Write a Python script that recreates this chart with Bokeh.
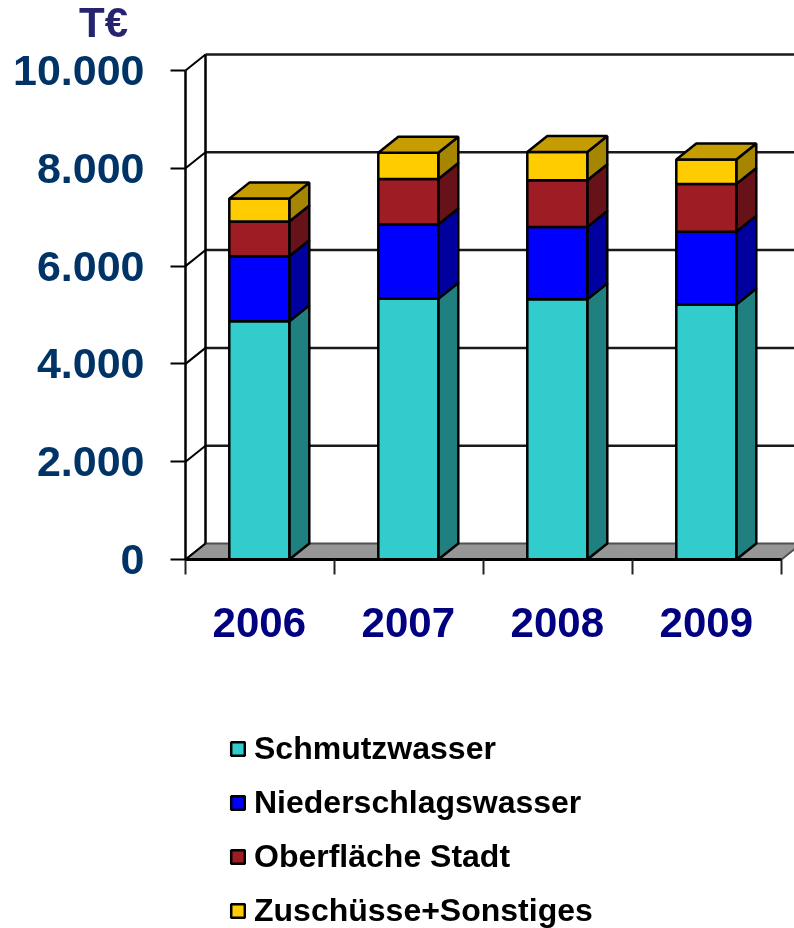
from bokeh.plotting import figure
from bokeh.embed import file_html
from bokeh.resources import INLINE
from bokeh.models import LinearAxis, FixedTicker, Label, Legend, LegendItem, Range1d
import numpy as np

# ---- data ----
years = ["2006", "2007", "2008", "2009"]
series_names = ["Schmutzwasser", "Niederschlagswasser", "Oberfläche Stadt", "Zuschüsse+Sonstiges"]
schmutz = [4870, 5330, 5320, 5215]
nieder = [1330, 1520, 1480, 1490]
oberflaeche = [710, 930, 955, 975]
zuschuesse = [470, 540, 580, 500]
y_ticks = [0, 2000, 4000, 6000, 8000, 10000]
y_labels = ["0", "2.000", "4.000", "6.000", "8.000", "10.000"]

front_colors = ["#33CCCC", "#0000FF", "#9E1C24", "#FFCC00"]
side_colors = ["#208080", "#00009F", "#661218", "#A68500"]
top_color = "#C59D00"

# ---- scale set-up ----
W, H = 794, 928
X0, Y0 = 185, 559          # pixel position of data origin
PX_X, PX_Y = 149.0, 0.0489 # px per category, px per value
DX = 20 / PX_X             # depth offset in data units
DY = 16 / PX_Y
BAR = 60 / PX_X
BAR_SHIFT = -0.7 / PX_X

p = figure(width=W, height=H, output_backend="svg", toolbar_location=None,
           x_axis_type=None, y_axis_type=None,
           x_range=Range1d(-X0 / PX_X, (W - X0) / PX_X),
           y_range=Range1d(-(H - Y0) / PX_Y, Y0 / PX_Y),
           min_border=0, min_border_left=0, min_border_right=0,
           min_border_top=0, min_border_bottom=0, outline_line_color=None,
           border_fill_color="white", background_fill_color="white")
p.styles = {"position": "fixed", "left": "0px", "top": "0px"}
p.grid.visible = False

n = len(years)
xmax = float(n)
LW = 2.5
BLACK = "#000000"

# floor
p.patch([0, DX, xmax + DX, xmax], [0, DY, DY, 0], fill_color="#969696",
        line_color="#505050", line_width=2)
# back wall gridlines
grid_vals = [v for v in y_ticks if v > 0]
p.segment(x0=[DX] * len(grid_vals), y0=[v + DY for v in grid_vals],
          x1=[xmax + DX] * len(grid_vals), y1=[v + DY for v in grid_vals],
          line_color="#1a1a1a", line_width=LW)
# side wall connecting lines
p.segment(x0=[0] * len(y_ticks), y0=y_ticks, x1=[DX] * len(y_ticks),
          y1=[v + DY for v in y_ticks], line_color=BLACK, line_width=2)
# back vertical
p.segment(x0=[DX], y0=[DY], x1=[DX], y1=[max(y_ticks) + DY], line_color=BLACK, line_width=LW)

# bars
stack = np.array([schmutz, nieder, oberflaeche, zuschuesse], dtype=float)
cum = np.vstack([np.zeros(n), np.cumsum(stack, axis=0)])
centers = np.arange(n) + 0.5 + BAR_SHIFT
left, right = centers - BAR / 2, centers + BAR / 2

legend_items = []
for s, name in enumerate(series_names):
    # side face
    xs = [[r, r + DX, r + DX, r] for r in right]
    ys = [[b, b + DY, t + DY, t] for b, t in zip(cum[s], cum[s + 1])]
    p.patches(xs, ys, fill_color=side_colors[s], line_color=BLACK, line_width=LW)
    # front face
    q = p.quad(left=left, right=right, bottom=cum[s], top=cum[s + 1],
               fill_color=front_colors[s], line_color=BLACK, line_width=LW)
    legend_items.append(LegendItem(label=name, renderers=[q]))
# top faces
p.patches([[l, l + DX, r + DX, r] for l, r in zip(left, right)],
          [[t, t + DY, t + DY, t] for t in cum[-1]],
          fill_color=top_color, line_color=BLACK, line_width=LW)

# y axis
yax = LinearAxis(fixed_location=0, ticker=FixedTicker(ticks=y_ticks),
                 major_label_overrides=dict(zip(y_ticks, y_labels)),
                 bounds=(0, max(y_ticks)),
                 major_tick_in=0, major_tick_out=15, minor_tick_line_color=None,
                 major_tick_line_color=BLACK, major_tick_line_width=2,
                 axis_line_color=BLACK, axis_line_width=LW,
                 major_label_standoff=26,
                 major_label_text_font="Liberation Sans",
                 major_label_text_font_style="bold",
                 major_label_text_font_size="43px",
                 major_label_text_color="#003366")
p.add_layout(yax, "left")

# x axis: tick marks
xax = LinearAxis(fixed_location=0, ticker=FixedTicker(ticks=list(range(n + 1))),
                 bounds=(0, xmax), major_tick_in=0, major_tick_out=15,
                 minor_tick_line_color=None, major_tick_line_color="#222222",
                 major_tick_line_width=2, axis_line_color=BLACK, axis_line_width=3,
                 major_label_text_font_size="0px", major_label_text_color=None)
p.add_layout(xax, "below")
# x axis: year labels between ticks
xlab = LinearAxis(fixed_location=0, ticker=FixedTicker(ticks=list(centers)),
                  major_label_overrides={float(c): y for c, y in zip(centers, years)},
                  major_tick_line_color=None, minor_tick_line_color=None,
                  axis_line_color=None, major_label_standoff=42,
                  major_label_text_font="Liberation Sans",
                  major_label_text_font_style="bold",
                  major_label_text_font_size="42px",
                  major_label_text_color="#000080")
p.add_layout(xlab, "below")

# unit label
p.add_layout(Label(x=(103 - X0) / PX_X, y=(Y0 - 22) / PX_Y, text="T€",
                   text_align="center", text_baseline="alphabetic",
                   text_font="Liberation Sans", text_font_style="bold",
                   text_font_size="42px", text_color="#27246F"))

# legend
legend = Legend(items=legend_items, location=(229, -1), orientation="vertical",
                background_fill_alpha=0, border_line_color=None,
                glyph_width=17, glyph_height=17, label_standoff=8,
                spacing=17, padding=8, margin=0,
                label_text_font="Liberation Sans", label_text_font_style="bold",
                label_text_font_size="32px", label_text_color="#000000",
                label_height=36)
p.add_layout(legend, "center")

open("out.html", "w").write(file_html(p, INLINE))
